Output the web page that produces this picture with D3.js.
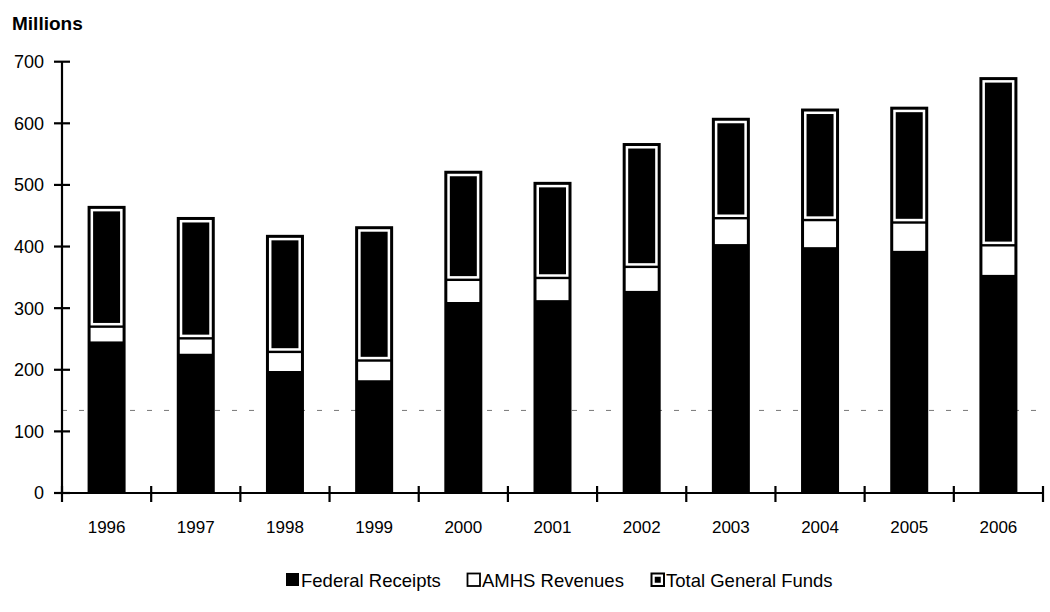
<!DOCTYPE html>
<html><head><meta charset="utf-8">
<script src="https://cdn.jsdelivr.net/npm/d3@7"></script>
<style>
body{margin:0;background:#fff;}
svg{display:block;font-family:"Liberation Sans",Arial,sans-serif;}
</style></head>
<body>
<svg id="chart" width="1050" height="612"></svg>
<script>
const years = ["1996","1997","1998","1999","2000","2001","2002","2003","2004","2005","2006"];
const federalReceipts = [246,226,198,183,310,313,328,404,399,393,354];
const amhsRevenues   = [24,25,31,32,36,36,39,42,44,46,48];
const generalFunds   = [196,197,190,218,177,156,201,163,181,188,273];
const yTicks = [0,100,200,300,400,500,600,700];
const refLineValue = 134;
const legendLabels = ["Federal Receipts","AMHS Revenues","Total General Funds"];

const svg = d3.select("#chart");
const x0 = 62, x1 = 1043, yBottom = 493, yTop = 61.7;
const x = d3.scaleBand().domain(years).range([x0, x1]).paddingInner(0).paddingOuter(0);
const y = d3.scaleLinear().domain([0,700]).range([yBottom, yTop]);
const barW = 38;

// Reference dashed line
svg.append("line")
  .attr("x1", x0).attr("x2", x1)
  .attr("y1", y(refLineValue)).attr("y2", y(refLineValue))
  .attr("stroke","#777").attr("stroke-width",1).attr("stroke-dasharray","5,12");

const data = years.map((yr,i)=>({yr, fed:federalReceipts[i], amhs:amhsRevenues[i], gf:generalFunds[i]}));

const g = svg.append("g");
const bars = g.selectAll("g.bar").data(data).enter().append("g").attr("class","bar");
const bx = d => x(d.yr) + x.bandwidth()/2 - barW/2;

bars.append("rect")
  .attr("x", bx).attr("width", barW)
  .attr("y", d => y(d.fed+d.amhs+d.gf))
  .attr("height", d => y(0) - y(d.fed+d.amhs+d.gf))
  .attr("fill","#000");

bars.append("rect")
  .attr("x", d => bx(d)+3).attr("width", barW-6)
  .attr("y", d => y(d.fed+d.amhs)+1.2)
  .attr("height", d => y(d.fed) - y(d.fed+d.amhs) - 1.2)
  .attr("fill","#fff");

bars.append("rect")
  .attr("x", d => bx(d)+3+1.25).attr("width", barW-6-2.5)
  .attr("y", d => y(d.fed+d.amhs+d.gf)+3+1.25)
  .attr("height", d => (y(d.fed+d.amhs)-1.2) - (y(d.fed+d.amhs+d.gf)+3) - 2.5)
  .attr("fill","#000").attr("stroke","#fff").attr("stroke-width",2.5);

// Axes
const axisG = svg.append("g");
axisG.append("line").attr("x1",x0).attr("x2",x0).attr("y1",yTop).attr("y2",yBottom)
  .attr("stroke","#000").attr("stroke-width",2.2);
axisG.append("line").attr("x1",x0).attr("x2",x1).attr("y1",yBottom).attr("y2",yBottom)
  .attr("stroke","#000").attr("stroke-width",2.2);

axisG.selectAll("line.yt").data(yTicks).enter().append("line")
  .attr("x1",x0-8).attr("x2",x0+8)
  .attr("y1",d=>y(d)).attr("y2",d=>y(d))
  .attr("stroke","#000").attr("stroke-width",2.2);
axisG.selectAll("text.yl").data(yTicks).enter().append("text")
  .attr("x",44).attr("y",d=>y(d)).attr("dy","0.36em")
  .attr("text-anchor","end").attr("font-size",18).text(d=>d);

const xTickPos = years.map(d=>x(d)).concat([x1]);
axisG.selectAll("line.xt").data(xTickPos).enter().append("line")
  .attr("x1",d=>d).attr("x2",d=>d)
  .attr("y1",yBottom-7).attr("y2",yBottom+9)
  .attr("stroke","#000").attr("stroke-width",2.2);
axisG.selectAll("text.xl").data(years).enter().append("text")
  .attr("x",d=>x(d)+x.bandwidth()/2).attr("y",533)
  .attr("text-anchor","middle").attr("font-size",17).text(d=>d);

svg.append("text").attr("x",12).attr("y",30).attr("font-size",19).attr("font-weight","bold").text("Millions");

// Legend
const leg = svg.append("g").attr("transform","translate(0,580)");
const legX = [285, 466, 650];
legendLabels.forEach((lab,i)=>{
  const lg = leg.append("g").attr("transform",`translate(${legX[i]},0)`);
  if(i===0){
    lg.append("rect").attr("x",1).attr("y",-7).attr("width",13).attr("height",13).attr("fill","#000");
  } else if(i===1){
    lg.append("rect").attr("x",1.5).attr("y",-6.5).attr("width",12.5).attr("height",12.5).attr("fill","#fff").attr("stroke","#000").attr("stroke-width",1.8);
  } else {
    lg.append("rect").attr("x",1.5).attr("y",-6.5).attr("width",12.5).attr("height",12.5).attr("fill","#fff").attr("stroke","#000").attr("stroke-width",2);
    lg.append("rect").attr("x",4.75).attr("y",-3.25).attr("width",6).attr("height",6).attr("fill","#000");
  }
  lg.append("text").attr("x",16).attr("y",0).attr("dy","0.36em").attr("font-size",18.5).text(lab);
});
</script>
</body></html>
